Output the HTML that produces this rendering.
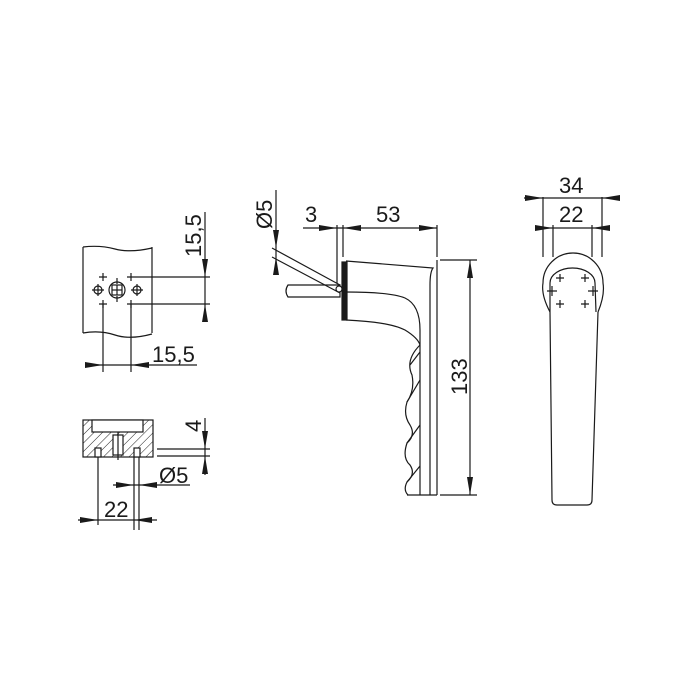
<!DOCTYPE html>
<html><head><style>
html,body{margin:0;padding:0;background:#fff;}
svg{display:block;}
text{font-family:"Liberation Sans",sans-serif;font-size:22px;fill:#1a1a1a;}
</style></head><body>
<svg width="700" height="700" viewBox="0 0 700 700" xmlns="http://www.w3.org/2000/svg">
<defs>
<pattern id="h" width="6" height="6" patternUnits="userSpaceOnUse" patternTransform="rotate(45)">
<line x1="0" y1="0" x2="0" y2="6" stroke="#222" stroke-width="1"/>
</pattern>
</defs>
<g stroke="#1a1a1a" stroke-width="1.2" fill="none">
<path d="M83,247 L83,333 M152,247 L152,333 M83,247 Q100,245 115,249 T152,248 M83,333 Q100,330 115,335 T152,334"/>
<circle cx="117" cy="290" r="8"/>
<rect x="112" y="285" width="10" height="10"/>
<line x1="117" y1="285" x2="117" y2="295"/><line x1="112" y1="290" x2="122" y2="290"/>
<circle cx="98" cy="290" r="4"/><circle cx="137" cy="290" r="4"/>
<path d="M92,290h12M98,284v12M131,290h12M137,284v12M117,278v6M117,296v6"/>
<path d="M99,277h8M103,273v8M127,277h8M131,273v8M99,304h8M103,300v8M127,304h8M131,300v8"/>
<path d="M135,277H210M135,304H210M205,212V322"/>
<path d="M103,304V372M131,304V372M85,365H197"/>
<rect x="83" y="420" width="70" height="37" fill="url(#h)"/>
<rect x="92" y="420" width="51" height="12" fill="#fff"/>
<rect x="113" y="435" width="10" height="20" fill="#fff"/>
<rect x="95" y="448" width="6" height="9" fill="#fff"/>
<rect x="134" y="448" width="6" height="9" fill="#fff"/>
<line x1="118" y1="432" x2="118" y2="460"/>
<path d="M98,457V525M134,457V530M139,457V530M205,418V475M157,449H210M157,456H210M113,485H190M78,520H157"/>
<rect x="342" y="262" width="5" height="58" fill="#1a1a1a"/>
<path d="M288,285 H340 V297 H288 Q284,291 288,285Z"/>
<path d="M272,248 L340,285 M272,257 L340,293"/>
<circle cx="339" cy="289" r="3" fill="#fff"/>
<path d="M346,261 L433,268 Q430,272 430,285 L430,495 M437,260 L437,495 M407,495 L437,495"/>
<path d="M346,292 Q390,292 405,298 Q420,305 420,330 L420,495"/>
<path d="M346,320 Q390,322 405,330 Q418,338 420,345"/>
<path d="M420,345 Q405,360 412,375 Q415,390 407,402 Q403,415 410,425 Q416,435 407,443 Q402,458 410,465 Q416,474 407,482 Q403,490 408,495"/>
<path d="M407,402 L420,380 M407,443 L420,425 M407,482 L420,466 M410,365 L420,352"/>
<path d="M276,190V275M303,228H437M337,225V283M343,225V257M437,225V257"/>
<path d="M440,260H477M440,495H477M470,260V495"/>
<path d="M550,312 Q541,295 543,283 A30,30 0 0 1 603,283 Q605,295 598,312"/>
<path d="M550,312 L550,283 A22.5,15 0 0 1 595,283 L596,312"/>
<path d="M550,312 L552,500 Q552,505 557,505 L587,505 Q592,505 592,500 L598,312"/>
<path d="M556,278h8M560,274v8M581,278h8M585,274v8M547,291h10M552,286v10M588,291h10M593,286v10M556,304h8M560,300v8M581,304h8M585,300v8"/>
<path d="M524,198H620M543,197V257M602,197V257M535,228H610M553,225V257M592,225V257"/>
</g>
<g fill="#1a1a1a">
<path d="M205,277 l-3,-18 h6Z M205,304 l-3,18 h6Z"/>
<path d="M103,365 l-18,-3 v6Z M131,365 l18,-3 v6Z"/>
<path d="M205,449 l-3,-18 h6Z M205,456 l-3,18 h6Z"/>
<path d="M134,485 l-18,-3 v6Z M139,485 l18,-3 v6Z"/>
<path d="M98,520 l-18,-3 v6Z M134,520 l18,-3 v6Z"/>
<path d="M276,248 l-3,-18 h6Z M276,257 l-3,18 h6Z"/>
<path d="M337,228 l-18,-3 v6Z M343,228 l18,-3 v6Z M437,228 l-18,-3 v6Z"/>
<path d="M470,260 l-3,18 h6Z M470,495 l-3,-18 h6Z"/>
<path d="M543,198 l-18,-3 v6Z M602,198 l18,-3 v6Z M553,228 l-18,-3 v6Z M592,228 l18,-3 v6Z"/>
</g>
<text x="0" y="0" transform="translate(201,257) rotate(-90)">15,5</text>
<text x="152" y="362">15,5</text>
<text x="0" y="0" transform="translate(201,432) rotate(-90)">4</text>
<text x="159" y="483">Ø5</text>
<text x="104" y="517">22</text>
<text x="0" y="0" transform="translate(272,229) rotate(-90)">Ø5</text>
<text x="305" y="222">3</text>
<text x="376" y="222">53</text>
<text x="0" y="0" transform="translate(467,395) rotate(-90)">133</text>
<text x="559" y="193">34</text>
<text x="559" y="222">22</text>
</svg>
</body></html>
